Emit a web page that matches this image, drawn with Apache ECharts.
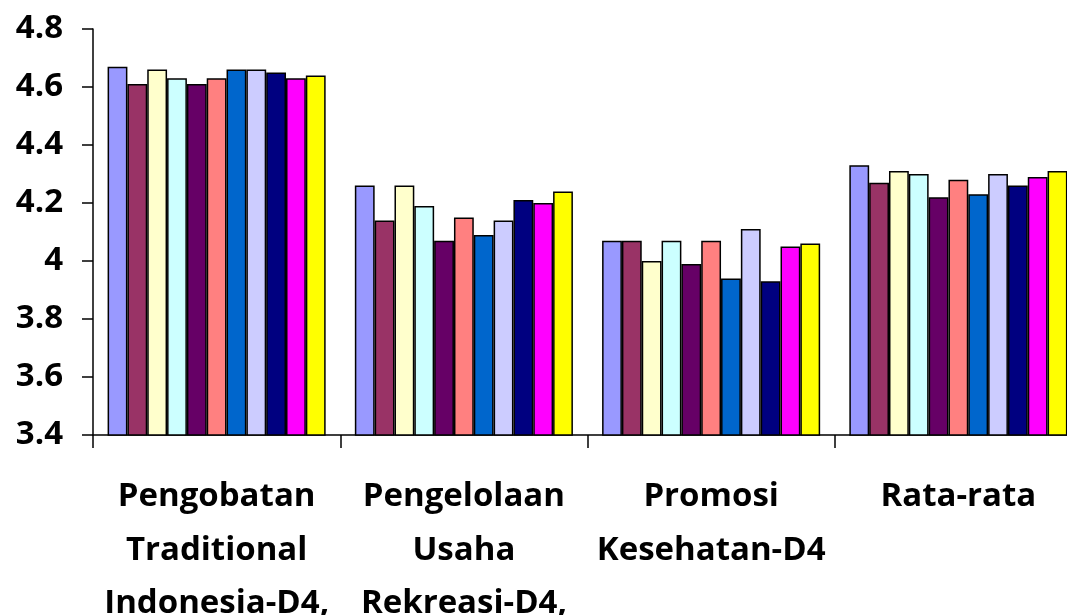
<!DOCTYPE html>
<html>
<head>
<meta charset="utf-8">
<script src="https://cdn.jsdelivr.net/npm/echarts@6/dist/echarts.min.js"></script>
<style>
html,body{margin:0;padding:0;background:#fff;}
#chart{width:1067px;height:615px;}
</style>
</head>
<body>
<div id="chart"></div>
<script>
const categories = [
  "Pengobatan\nTraditional\nIndonesia-D4,",
  "Pengelolaan\nUsaha\nRekreasi-D4,",
  "Promosi\nKesehatan-D4",
  "Rata-rata"
];
const s1  = [4.67, 4.26, 4.07, 4.33];
const s2  = [4.61, 4.14, 4.07, 4.27];
const s3  = [4.66, 4.26, 4.00, 4.31];
const s4  = [4.63, 4.19, 4.07, 4.30];
const s5  = [4.61, 4.07, 3.99, 4.22];
const s6  = [4.63, 4.15, 4.07, 4.28];
const s7  = [4.66, 4.09, 3.94, 4.23];
const s8  = [4.66, 4.14, 4.11, 4.30];
const s9  = [4.65, 4.21, 3.93, 4.26];
const s10 = [4.63, 4.20, 4.05, 4.29];
const s11 = [4.64, 4.24, 4.06, 4.31];
const seriesValues = [s1, s2, s3, s4, s5, s6, s7, s8, s9, s10, s11];
const seriesNames = ["Seri 1","Seri 2","Seri 3","Seri 4","Seri 5","Seri 6","Seri 7","Seri 8","Seri 9","Seri 10","Seri 11"];
const colors = ["#9999FF","#993366","#FFFFCC","#CCFFFF","#660066","#FF8080","#0066CC","#CCCCFF","#000080","#FF00FF","#FFFF00"];
const yTicks = { min: 3.4, max: 4.8, interval: 0.2 };

const chart = echarts.init(document.getElementById('chart'), null, {renderer: 'canvas'});
const font = '"Open Sans", "Liberation Sans", sans-serif';
chart.setOption({
  backgroundColor: '#ffffff',
  animation: false,
  grid: { left: 93, right: -15, top: 29, bottom: 180, containLabel: false, outerBoundsMode: 'none' },
  xAxis: {
    type: 'category',
    data: categories,
    axisLine: { show: true, lineStyle: { color: '#000', width: 1.5 } },
    axisTick: { show: true, length: 13, lineStyle: { color: '#000', width: 1.5 } },
    axisLabel: {
      color: '#000', fontFamily: font, fontWeight: 'bold', fontSize: 33,
      lineHeight: 53.5, margin: 35, interval: 0, align: 'center'
    },
    splitLine: { show: false }
  },
  yAxis: {
    type: 'value',
    min: yTicks.min, max: yTicks.max, interval: yTicks.interval,
    axisLine: { show: true, lineStyle: { color: '#000', width: 1.5 } },
    axisTick: { show: true, inside: false, length: 11, lineStyle: { color: '#000', width: 1.5 } },
    axisLabel: {
      color: '#000', fontFamily: font, fontWeight: 'bold', fontSize: 33, margin: 30,
      formatter: function (v) { return String(Math.round(v * 10) / 10); }
    },
    splitLine: { show: false }
  },
  series: seriesValues.map((vals, i) => ({
    name: seriesNames[i],
    type: 'bar',
    data: vals,
    barGap: '0%',
    barCategoryGap: '11.8%',
    itemStyle: { color: colors[i], borderColor: '#000', borderWidth: 1.5 }
  }))
});
</script>
</body>
</html>
